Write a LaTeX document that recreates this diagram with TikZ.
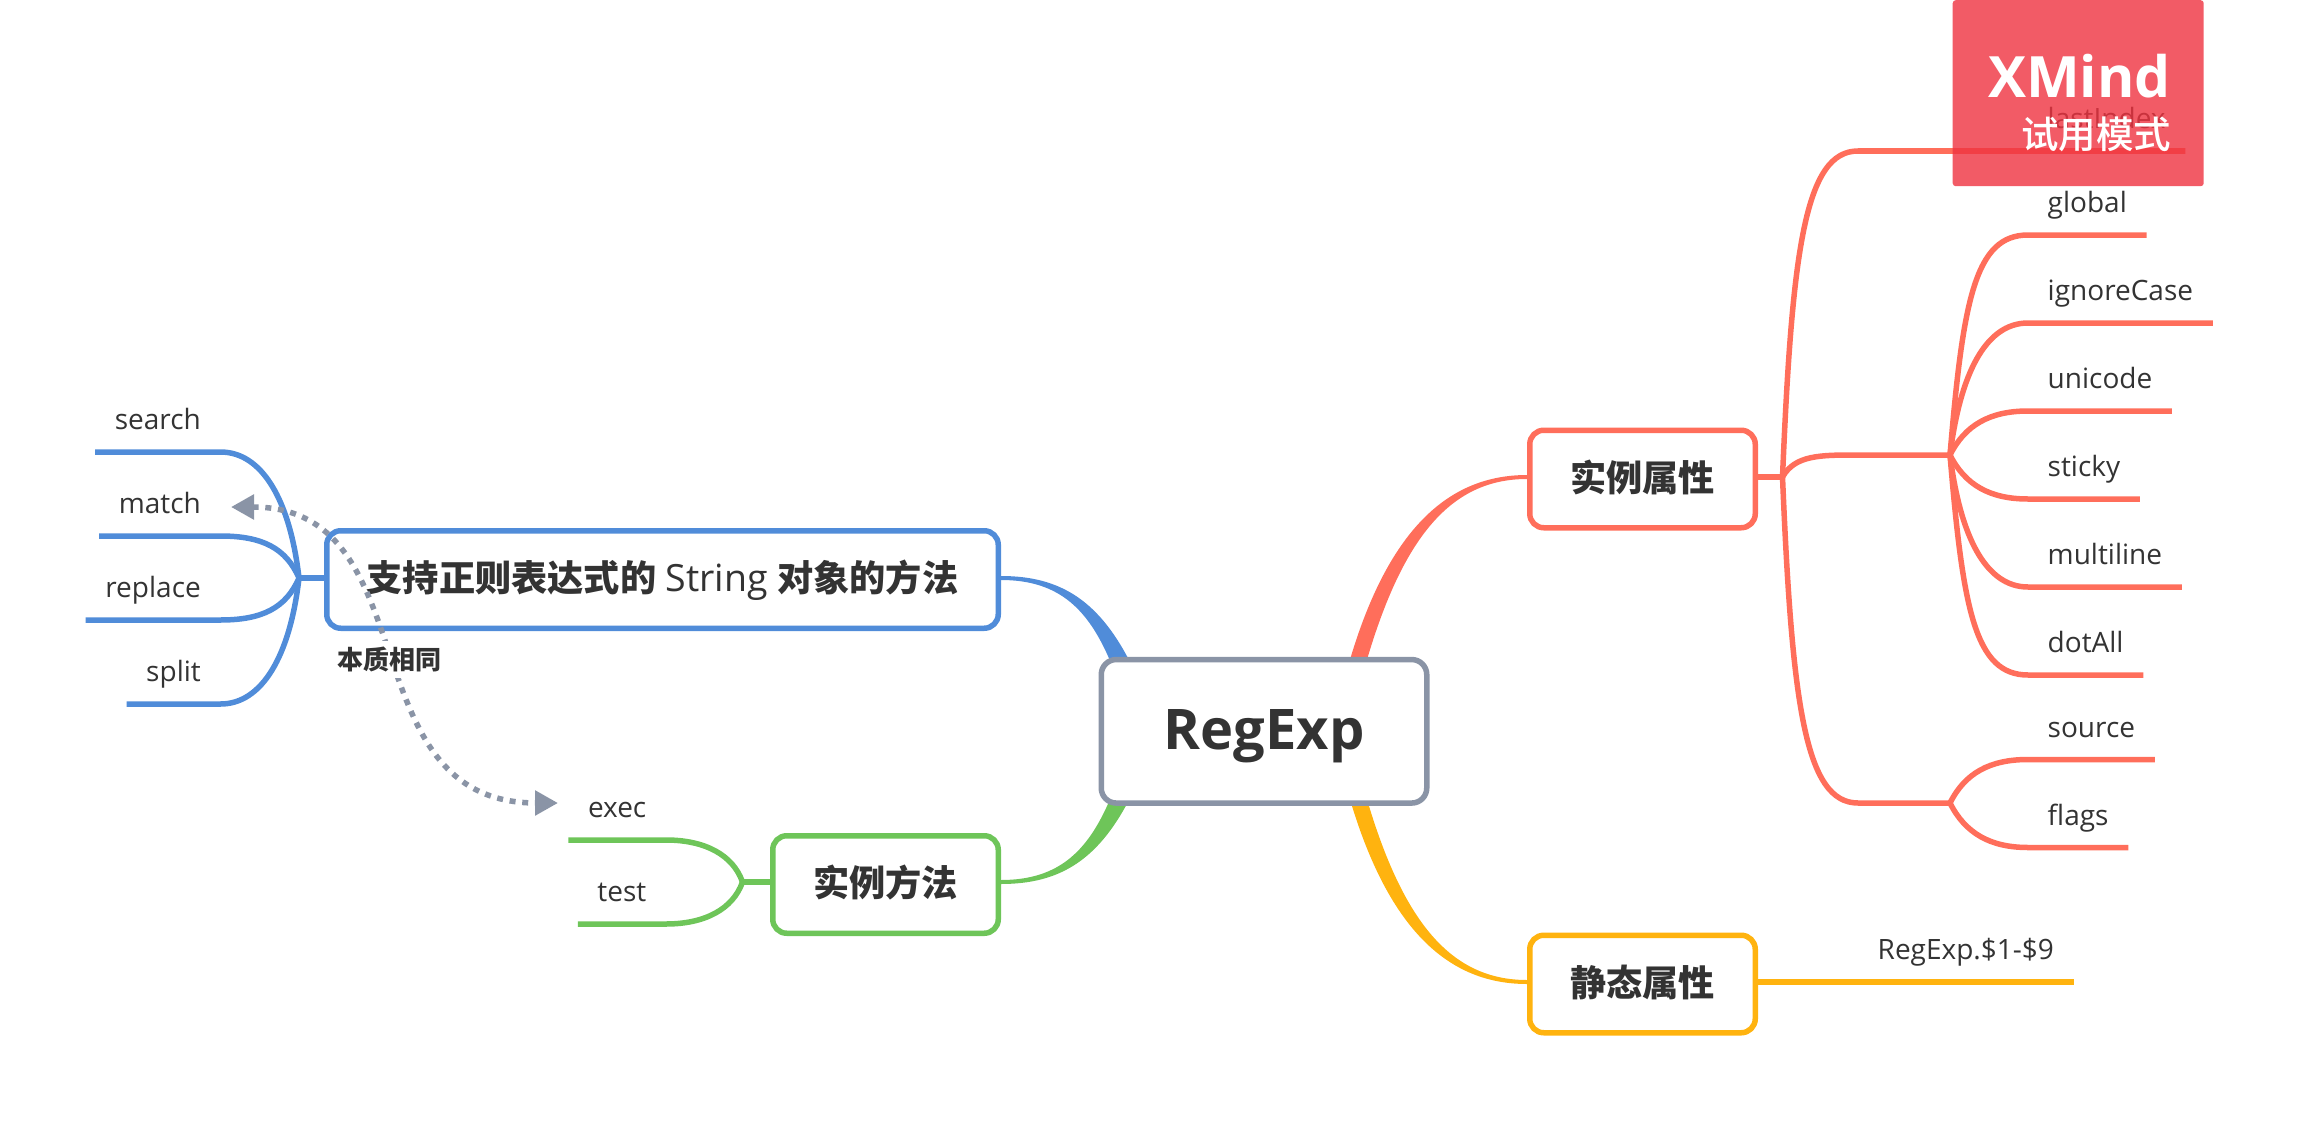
\documentclass[tikz,border=0pt]{standalone}
\usepackage{fontspec}
\setmainfont{Open Sans}
\newfontfamily\cjk{Noto Sans CJK SC}
\newfontfamily\cjkmed{Noto Sans CJK SC Medium}
\usetikzlibrary{positioning, calc, backgrounds, arrows.meta}
\definecolor{rootgrey}{HTML}{8A94A6}
\definecolor{attrred}{HTML}{FF6E5B}
\definecolor{strblue}{HTML}{508CD9}
\definecolor{methgreen}{HTML}{6EC559}
\definecolor{statyellow}{HTML}{FFB30F}
\definecolor{inktext}{HTML}{333333}
\definecolor{trialred}{HTML}{EF3240}
\tikzstyle{rootbox} = [rectangle, rounded corners=15pt, minimum width=325.5pt, minimum height=143.5pt, line width=5.5pt, draw=rootgrey, fill=white, text=inktext, text depth=4pt, font=\fontsize{56}{60}\selectfont\bfseries]
\tikzstyle{topicbox} = [rectangle, rounded corners=14pt, minimum height=97.5pt, line width=5.5pt, fill=white, text=inktext, text height=32pt, text depth=8pt, font=\fontsize{36.2}{40}\selectfont\bfseries]
\tikzstyle{leaf} = [inner xsep=19.5pt, inner ysep=0pt, text height=24pt, text depth=22pt, text=inktext, font=\fontsize{28}{32}\selectfont]
\tikzstyle{leafright} = [leaf, anchor=south west]
\tikzstyle{leafleft} = [leaf, anchor=south east]
\tikzstyle{branch} = [line width=5.5pt]
\tikzstyle{relation} = [line width=5.5pt, rootgrey, dash pattern=on 6pt off 6.7pt]
\begin{document}
\begin{tikzpicture}[x=1pt, y=-1pt]
    \useasboundingbox (0,0) rectangle (2299,1121);

    % Nodes
    \node (regexp) [rootbox] at (1264,731.3) {RegExp};
    \node (attr) [topicbox, draw=attrred, minimum width=225.5pt] at (1642.5,479) {\cjk 实例属性};
    \node (stat) [topicbox, draw=statyellow, minimum width=225.5pt] at (1642.5,984) {\cjk 静态属性};
    \node (strmeth) [topicbox, draw=strblue, minimum width=671.5pt] at (662.5,579.5) {{\cjk 支持正则表达式的} {\mdseries\fontsize{37.5}{40}\selectfont String} {\cjk 对象的方法}};
    \node (meth) [topicbox, draw=methgreen, minimum width=225.5pt] at (885.5,884.5) {\cjk 实例方法};

    \coordinate (attrfork) at ([xshift=24.5pt,yshift=2pt]attr.east);
    \coordinate (midfork) at (1950,455);
    \coordinate (lowfork) at (1950,803);
    \coordinate (strfork) at ([xshift=-25pt,yshift=1.5pt]strmeth.west);
    \coordinate (methfork) at ([xshift=-27.5pt,yshift=2.5pt]meth.west);

    \node (lastindex) [leafright] at (2028,151) {lastIndex};
    \node (global) [leafright] at (2028,235) {global};
    \node (ignorecase) [leafright, below=88pt of global.south west, anchor=south west] {ignoreCase};
    \node (unicode) [leafright, below=88pt of ignorecase.south west, anchor=south west] {unicode};
    \node (sticky) [leafright, below=88pt of unicode.south west, anchor=south west] {sticky};
    \node (multiline) [leafright, below=88pt of sticky.south west, anchor=south west] {multiline};
    \node (dotall) [leafright, below=88pt of multiline.south west, anchor=south west] {dotAll};
    \node (source) [leafright] at (2028,759.5) {source};
    \node (flags) [leafright, below=88pt of source.south west, anchor=south west] {flags};
    \node (dollar) [leafright] at (1858,982) {RegExp.\$1-\$9};

    \node (search) [leafleft] at (220.5,452) {search};
    \node (match) [leafleft, below=84pt of search.south east, anchor=south east] {match};
    \node (replace) [leafleft, below=84pt of match.south east, anchor=south east] {replace};
    \node (split) [leafleft, below=84pt of replace.south east, anchor=south east] {split};
    \node (exec) [leafleft] at (666,840) {exec};
    \node (test) [leafleft, below=84pt of exec.south east, anchor=south east] {test};

    \coordinate (relstart) at (231,507);
    \coordinate (relend) at (558,803);

    % Tapered branches, under the boxes
    \begin{scope}[on background layer]
    \fill [attrred] (1347,670) .. controls (1387,527) and (1450,475) .. ([yshift=4pt]attr.west) -- ([yshift=0pt]attr.west) .. controls (1452,479) and (1402,535) .. (1364,670) -- cycle;
    \fill [statyellow] (1347,789) .. controls (1387,932) and (1450,984) .. ([yshift=0pt]stat.west) -- ([yshift=4pt]stat.west) .. controls (1452,980) and (1402,924) .. (1364,789) -- cycle;
    \fill [strblue] (1133,668) .. controls (1100,600) and (1060,576) .. ([yshift=3.5pt]strmeth.east) -- ([yshift=-0.5pt]strmeth.east) .. controls (1060,580) and (1090,610) .. (1113,668) -- cycle;
    \fill [methgreen] (1133,792) .. controls (1100,860) and (1060,884) .. ([yshift=0.5pt]meth.east) -- ([yshift=4.5pt]meth.east) .. controls (1060,880) and (1090,850) .. (1113,792) -- cycle;
    \end{scope}

    % Arrows
    \draw [branch, attrred] ([yshift=2pt]attr.east) -- (attrfork);
    \draw [branch, attrred] (attrfork) .. controls (1792,250) and (1805,151) .. (1858,151) -- (lastindex.south east);
    \draw [branch, attrred] (attrfork) .. controls (1795,455) and (1820,455) .. (1858,455) -- (midfork);
    \draw [branch, attrred] (attrfork) .. controls (1792,704) and (1805,803) .. (1858,803) -- (lowfork);
    \draw [branch, attrred] (midfork) .. controls (1963,300) and (1975,235) .. (global.south west) -- (global.south east);
    \draw [branch, attrred] (midfork) .. controls (1960,375) and (1985,323) .. (ignorecase.south west) -- (ignorecase.south east);
    \draw [branch, attrred] (midfork) .. controls (1965,425) and (1990,411) .. (unicode.south west) -- (unicode.south east);
    \draw [branch, attrred] (midfork) .. controls (1965,485) and (1990,499) .. (sticky.south west) -- (sticky.south east);
    \draw [branch, attrred] (midfork) .. controls (1960,535) and (1985,587) .. (multiline.south west) -- (multiline.south east);
    \draw [branch, attrred] (midfork) .. controls (1963,610) and (1975,675) .. (dotall.south west) -- (dotall.south east);
    \draw [branch, attrred] (lowfork) .. controls (1965,773) and (1990,759.5) .. (source.south west) -- (source.south east);
    \draw [branch, attrred] (lowfork) .. controls (1965,833) and (1990,847.5) .. (flags.south west) -- (flags.south east);
    \draw [branch, statyellow] ([yshift=2pt]stat.east) -- (dollar.south east);
    \draw [branch, strblue] ([yshift=1.5pt]strmeth.west) -- (strfork);
    \draw [branch, strblue] (strfork) .. controls (290,500) and (262,452) .. (search.south east) -- (search.south west);
    \draw [branch, strblue] (strfork) .. controls (286,548) and (262,536) .. (match.south east) -- (match.south west);
    \draw [branch, strblue] (strfork) .. controls (286,608) and (262,620) .. (replace.south east) -- (replace.south west);
    \draw [branch, strblue] (strfork) .. controls (290,656) and (262,704) .. (split.south east) -- (split.south west);
    \draw [branch, methgreen] ([yshift=2.5pt]meth.west) -- (methfork);
    \draw [branch, methgreen] (methfork) .. controls (733,855) and (705,840) .. (exec.south east) -- (exec.south west);
    \draw [branch, methgreen] (methfork) .. controls (733,909) and (705,924) .. (test.south east) -- (test.south west);

    \draw [relation, {Triangle[length=23pt,width=24pt,fill=rootgrey]}-{Triangle[length=23pt,width=24pt,fill=rootgrey]}] (relstart) .. controls (430,507) and (347,803) .. node (same) [pos=0.5, xshift=-1pt, yshift=-4.5pt, fill=white, inner xsep=1pt, inner ysep=6pt, text=inktext, font=\fontsize{26}{30}\selectfont\bfseries] {\cjk 本质相同} (relend);

    % Trial mark
    \node (trial) [rectangle, rounded corners=3pt, minimum width=251pt, minimum height=186pt, anchor=north west, fill=trialred, fill opacity=0.8] at (1952.5,0) {};
    \node (xmind) [anchor=base east, inner sep=0pt, text=white, font=\fontsize{57}{60}\selectfont\bfseries] at (2171,98) {XMind};
    \node (trialmode) [anchor=base east, inner sep=0pt, text=white, font=\fontsize{37.5}{40}\selectfont] at (2171.5,149) {\cjkmed 试用模式};
\end{tikzpicture}
\end{document}
